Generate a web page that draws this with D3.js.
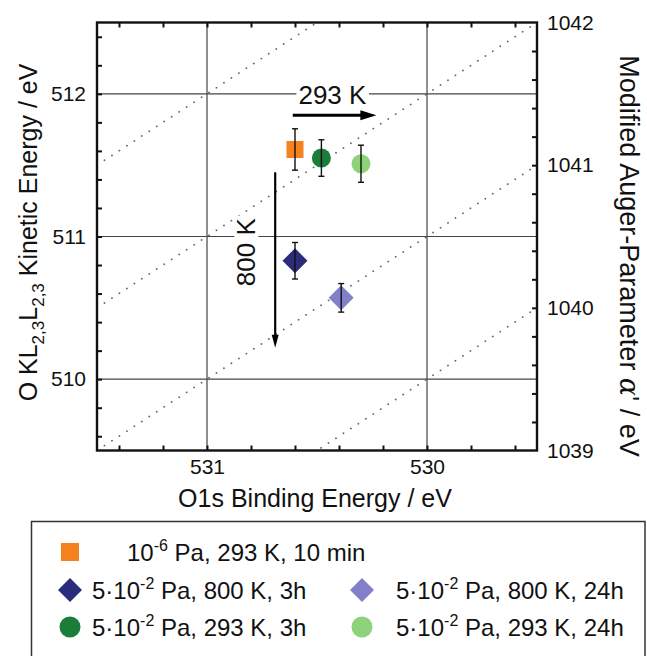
<!DOCTYPE html>
<html><head><meta charset="utf-8">
<script src="https://cdn.jsdelivr.net/npm/d3@7"></script>
<style>
body{margin:0;background:#fff}
svg{display:block}
text{font-family:"Liberation Sans",Arial,sans-serif;fill:#111}
</style>
</head><body>
<svg id="chart" width="647" height="656"></svg>
<script>
// ---------------- data ----------------
const bindingEnergy = [530.60, 530.60, 530.39, 530.48, 530.30];   // O1s BE / eV
const kineticEnergy = [511.61, 510.83, 510.57, 511.55, 511.51];   // O KLL KE / eV
const kineticError  = [0.145, 0.128, 0.100, 0.128, 0.130];
const seriesShapes  = ["square", "diamond", "diamond", "circle", "circle"];
const seriesColors  = ["#F5821F", "#2B2C7C", "#8181C9", "#1C7D3B", "#8ED27A"];
const seriesPrefix  = ["10", "5·10", "5·10", "5·10", "5·10"];
const seriesExp     = ["-6", "-2", "-2", "-2", "-2"];
const seriesRest    = [" Pa, 293 K, 10 min", " Pa, 800 K, 3h", " Pa, 800 K, 24h", " Pa, 293 K, 3h", " Pa, 293 K, 24h"];
const legendCol     = [0, 0, 1, 0, 1];
const legendRow     = [0, 1, 1, 2, 2];

const xTickLabels = [531, 530];
const yTickLabels = [510, 511, 512];
const y2TickLabels = [1039, 1040, 1041, 1042];
const alphaLines = [1040, 1041, 1042, 1043];   // constant modified Auger parameter

const arrow293BE = [530.61, 530.23], arrow293KE = 511.85;
const arrow800BE = 530.69, arrow800KE = [511.45, 510.22];
const label293 = {text: "293 K", be: 530.43, ke: 511.93};
const label800 = {text: "800 K", be: 530.78, ke: 510.89};

// ---------------- scales ----------------
const svg = d3.select("#chart");
const x = d3.scaleLinear().domain([531.5, 529.5]).range([97, 537]);
const y = d3.scaleLinear().domain([509.5, 512.5]).range([450.5, 22.5]);
const y2 = d3.scaleLinear().domain([1039, 1042]).range([450.5, 22.5]);
const [L, R] = x.range(), [B, T] = y.range();

svg.append("defs").append("clipPath").attr("id", "plotclip")
  .append("rect").attr("x", L).attr("y", T).attr("width", R - L).attr("height", B - T);

// gridlines
svg.append("g").selectAll("line").data(xTickLabels).join("line")
  .attr("x1", d => x(d)).attr("x2", d => x(d)).attr("y1", T).attr("y2", B)
  .attr("stroke", "#444").attr("stroke-width", 1.2);
svg.append("g").selectAll("line").data(yTickLabels).join("line")
  .attr("y1", d => y(d)).attr("y2", d => y(d)).attr("x1", L).attr("x2", R)
  .attr("stroke", "#444").attr("stroke-width", 1.2);

// dotted constant-alpha lines
svg.append("g").attr("clip-path", "url(#plotclip)").selectAll("line").data(alphaLines).join("line")
  .attr("x1", x(531.5)).attr("y1", d => y(d - 531.5))
  .attr("x2", x(529.5)).attr("y2", d => y(d - 529.5))
  .attr("stroke", "#666").attr("stroke-width", 1.8)
  .attr("stroke-linecap", "round").attr("stroke-dasharray", "0.1 8.8");

// axes ticks (inward)
const xMinor = d3.range(529.6, 531.45, 0.2);
const yMinor = d3.range(509.6, 512.45, 0.2);
const y2Minor = d3.range(1039.2, 1041.85, 0.2);
function noDomain(g){ g.select(".domain").remove(); }
svg.append("g").attr("transform", `translate(0,${B})`)
  .call(d3.axisBottom(x).tickValues(xMinor).tickSize(-5).tickFormat("")).call(noDomain);
svg.append("g").attr("transform", `translate(0,${T})`)
  .call(d3.axisTop(x).tickValues(xMinor).tickSize(-5).tickFormat("")).call(noDomain);
svg.append("g").attr("transform", `translate(${L},0)`)
  .call(d3.axisLeft(y).tickValues(yMinor).tickSize(-5).tickFormat("")).call(noDomain);
svg.append("g").attr("transform", `translate(${R},0)`)
  .call(d3.axisRight(y2).tickValues(y2Minor).tickSize(-5).tickFormat("")).call(noDomain);
svg.selectAll(".tick line").attr("stroke", "#111").attr("stroke-width", 2);

// tick labels
const bx = svg.append("g").attr("transform", `translate(0,${B})`)
  .call(d3.axisBottom(x).tickValues(xTickLabels).tickSize(0).tickPadding(9).tickFormat(d3.format("d"))).call(noDomain);
const ly = svg.append("g").attr("transform", `translate(${L},0)`)
  .call(d3.axisLeft(y).tickValues(yTickLabels).tickSize(0).tickPadding(11).tickFormat(d3.format("d"))).call(noDomain);
const ry = svg.append("g").attr("transform", `translate(${R},0)`)
  .call(d3.axisRight(y2).tickValues(y2TickLabels).tickSize(0).tickPadding(10).tickFormat(d3.format("d"))).call(noDomain);
[bx, ly, ry].forEach(g => g.selectAll("text").attr("font-size", 21)
  .attr("font-family", '"Liberation Sans",Arial,sans-serif').attr("fill", "#111"));

// frame
svg.append("rect").attr("x", L).attr("y", T).attr("width", R - L).attr("height", B - T)
  .attr("fill", "none").attr("stroke", "#111").attr("stroke-width", 2.4);

// annotations
function labelWithBg(g, txt){
  const t = g.append("text").attr("font-size", 26).attr("text-anchor", "middle").text(txt);
  const bb = t.node().getBBox();
  g.insert("rect", "text").attr("x", bb.x - 2).attr("y", bb.y + 3).attr("width", bb.width + 4)
    .attr("height", bb.height - 6).attr("fill", "#fff");
}
const a1 = svg.append("g").attr("transform", `translate(${x(label293.be)},${y(label293.ke)})`);
labelWithBg(a1, label293.text);
const a2 = svg.append("g").attr("transform", `translate(${x(label800.be)},${y(label800.ke)}) rotate(-90)`);
labelWithBg(a2, label800.text);

// horizontal arrow
const hx0 = x(arrow293BE[0]), hx1 = x(arrow293BE[1]), hy = y(arrow293KE);
svg.append("line").attr("x1", hx0).attr("x2", hx1 - 12).attr("y1", hy).attr("y2", hy)
  .attr("stroke", "#000").attr("stroke-width", 3);
svg.append("path").attr("d", `M${hx1},${hy} L${hx1 - 16},${hy - 5} L${hx1 - 16},${hy + 5} Z`).attr("fill", "#000");
// vertical arrow
const vx = x(arrow800BE), vy0 = y(arrow800KE[0]), vy1 = y(arrow800KE[1]);
svg.append("line").attr("x1", vx).attr("x2", vx).attr("y1", vy0).attr("y2", vy1 - 10)
  .attr("stroke", "#000").attr("stroke-width", 2.2);
svg.append("path").attr("d", `M${vx},${vy1} L${vx - 3.5},${vy1 - 13} L${vx + 3.5},${vy1 - 13} Z`).attr("fill", "#000");

// markers
function symbolFor(shape, s){
  if (shape === "square") return {path: d3.symbol(d3.symbolSquare, s * s)(), rot: 0};
  if (shape === "diamond") return {path: d3.symbol(d3.symbolSquare, (s / Math.SQRT2) ** 2)(), rot: 45};
  return {path: d3.symbol(d3.symbolCircle, Math.PI * (s / 2) ** 2)(), rot: 0};
}
const plotSize = {square: 17, diamond: 25, circle: 19};
const pts = d3.range(bindingEnergy.length);
svg.append("g").selectAll("path").data(pts).join("path")
  .attr("d", i => symbolFor(seriesShapes[i], plotSize[seriesShapes[i]]).path)
  .attr("transform", i => `translate(${x(bindingEnergy[i])},${y(kineticEnergy[i])}) rotate(${symbolFor(seriesShapes[i], 1).rot})`)
  .attr("fill", i => seriesColors[i]);

// error bars
const eb = svg.append("g").attr("stroke", "#111").attr("stroke-width", 1.4);
pts.forEach(i => {
  const cx = x(bindingEnergy[i]);
  const yt = y(kineticEnergy[i] + kineticError[i]), yb = y(kineticEnergy[i] - kineticError[i]);
  eb.append("line").attr("x1", cx).attr("x2", cx).attr("y1", yt).attr("y2", yb);
  eb.append("line").attr("x1", cx - 3).attr("x2", cx + 3).attr("y1", yt).attr("y2", yt);
  eb.append("line").attr("x1", cx - 3).attr("x2", cx + 3).attr("y1", yb).attr("y2", yb);
});

// axis titles
svg.append("text").attr("x", (L + R) / 2 - 2).attr("y", 507).attr("text-anchor", "middle")
  .attr("font-size", 25).text("O1s Binding Energy / eV");

const lt = svg.append("text").attr("transform", `translate(37,${(T + B) / 2 - 4}) rotate(-90)`)
  .attr("text-anchor", "middle").attr("font-size", 25);
lt.append("tspan").text("O KL");
lt.append("tspan").attr("font-size", 17).attr("dy", 7).text("2,3");
lt.append("tspan").attr("dy", -7).text("L");
lt.append("tspan").attr("font-size", 17).attr("dy", 7).text("2,3");
lt.append("tspan").attr("dy", -7).text(" Kinetic Energy / eV");

const rt = svg.append("text").attr("transform", `translate(620,256) rotate(90)`)
  .attr("text-anchor", "middle").attr("font-size", 27);
rt.append("tspan").text("Modified Auger-Parameter ");
rt.append("tspan").attr("font-family", '"DejaVu Serif",serif').attr("font-style", "italic").text("α");
rt.append("tspan").text("' / eV");

// legend
svg.append("rect").attr("x", 31.5).attr("y", 521.5).attr("width", 613.5).attr("height", 160)
  .attr("fill", "none").attr("stroke", "#333").attr("stroke-width", 1.5);
const legMarkX = [70, 362], legTextX = [92, 396], legRowY = [552, 590, 627];
const legSize = {square: 18, diamond: 24, circle: 21};
pts.forEach(i => {
  const mx = legMarkX[legendCol[i]], my = legRowY[legendRow[i]];
  const sym = symbolFor(seriesShapes[i], legSize[seriesShapes[i]]);
  svg.append("path").attr("d", sym.path).attr("transform", `translate(${mx},${my}) rotate(${sym.rot})`)
    .attr("fill", seriesColors[i]);
  const tx = legTextX[legendCol[i]] + (legendRow[i] === 0 ? 35 : 0);
  const t = svg.append("text").attr("x", tx).attr("y", my + 9).attr("font-size", 24);
  t.append("tspan").text(seriesPrefix[i]);
  t.append("tspan").attr("font-size", 16).attr("dy", -10).text(seriesExp[i]);
  t.append("tspan").attr("dy", 10).text(seriesRest[i]);
});
</script>
</body></html>
